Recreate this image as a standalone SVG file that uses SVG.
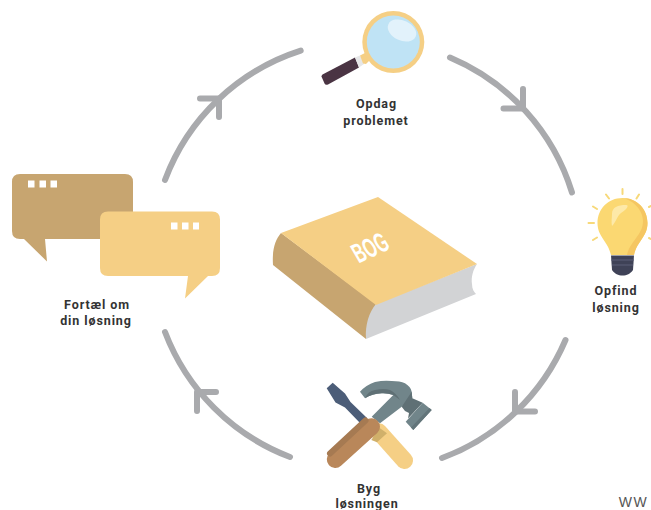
<svg xmlns="http://www.w3.org/2000/svg" width="651" height="510" viewBox="0 0 651 510">
<style>
.lbl{font-family:"Roboto","Liberation Sans",sans-serif;font-size:12.5px;font-weight:700;fill:#333;text-anchor:middle;letter-spacing:.9px}
.arc{fill:none;stroke:#a9aaad;stroke-width:6;stroke-linecap:round;stroke-linejoin:round}
</style>
<rect width="651" height="510" fill="#fff"/>
<g id="connectors" class="arc">
<path d="M450 57.500A215 215 0 0 1 572 192.500"/>
<path d="M503.500 108.500H523V89"/>
<path d="M565.500 340A216 216 0 0 1 442 458"/>
<path d="M515 392V411.500H535"/>
<path d="M290 457A216 216 0 0 1 165 332"/>
<path d="M197 392L216 392M197 392V411"/>
<path d="M165 180A215 215 0 0 1 300.700 50.700"/>
<path d="M200 98.500H219V117"/>
</g>
<g id="node-opdag">
<path d="M321.500 76.500L324.500 83.500Q325.500 85.500 328 84.500L359 67.500L355 57.500L322.500 74.500Q321.500 75.500 321.500 76.500Z" fill="#4a3443"/>
<path d="M355 57.500L359 67.500L364 64L360 55.500Z" fill="#e6e7e8"/>
<path d="M360 55.500L367 52L373 57L366 64L363 63.500Z" fill="#f5cf85"/>
<circle cx="393.300" cy="42" r="31" fill="#f5cf85"/>
<circle cx="393.300" cy="42" r="26.500" fill="#bfe3f5"/>
<ellipse cx="402" cy="30.500" rx="15" ry="10" transform="rotate(25 402 30.500)" fill="#e2f2fb"/>
<text class="lbl" x="376.500" y="108">Opdag</text>
<text class="lbl" x="376" y="125">problemet</text>
</g>
<g id="node-opfind">
<g stroke="#f7d97a" stroke-width="2" stroke-linecap="round" fill="none">
<path d="M622.500 189V194M606 194.500L609 198.500M639 194.500L636.500 198.500M593 206.500L597 209M588.500 223H594M593 240L597 237.500M649 207L651 206M649 238L651 239"/>
</g>
<path d="M622.500 198C608 198 597.500 209 597.500 223C597.500 237 608 241 611 255H634C637 241 647.500 237 647.500 223C647.500 209 637 198 622.500 198Z" fill="#fbd872"/>
<path d="M622.500 198C637 198 647.500 209 647.500 223C647.500 237 637 241 634 255H627C630 241 643 235 643 221C643 210 633 200 622.500 198Z" fill="#f5c661"/>
<path d="M612 214C612 207 618 205 626 205C630 205 626 210 621 213C617 216 616 222 612 226C611 222 612 218 612 214Z" fill="#fde9a8"/>
<path d="M611 255.500H634L633 270C630 274 627 275.500 622.500 275.500C618 275.500 615 274 612 270Z" fill="#3f4257"/>
<path d="M611 260H634M612 265H633" stroke="#5c5f78" stroke-width="1" fill="none"/>
<text class="lbl" x="616" y="295">Opfind</text>
<text class="lbl" x="616" y="312">løsning</text>
</g>
<g id="node-byg">
<path d="M326.700 388.300L332.700 382.700L345 393.500L350.500 402L367 418L361 424L345 407.500L335.500 402.500Z" fill="#4c5d78"/>
<path d="M360 391.700Q366 385 375 382Q384 380 391.700 381Q400 381 405 383.300Q411 387 411.700 391.700L412.300 398.300L401.700 406.700L380 423.300L371.700 416.700L393.300 395Q388 393 381.700 393.300Q372 394 365 398.300Z" fill="#71858a"/>
<path d="M365 398.300Q368 391 375 390Q384 388 390 390Q396 393 400 400L393.300 395Q388 393 381.700 393.300Q372 394 365 398.300Z" fill="#5f7075"/>
<path d="M411.700 391.700L412.300 398.300L422.700 402.700L408 418.500L409 413L405 411L401.700 406.700Z" fill="#5f7075"/>
<path d="M422.700 402.700L431.700 410L413.300 430L405.700 421.700Z" fill="#71858a"/>
<path d="M431.700 410L413.300 430L411 427.500L429.500 408Z" fill="#63757a"/>
<line x1="378.700" y1="431.700" x2="404.500" y2="460.500" stroke="#f5cf85" stroke-width="17" stroke-linecap="round"/>
<path d="M371.300 440L379.300 427.700L387 433.300L377 442.300Z" fill="#d0b06a"/>
<line x1="335.300" y1="459.500" x2="371.500" y2="426.700" stroke="#b9875a" stroke-width="17" stroke-linecap="round"/>
<path d="M330 453.500L365.500 420.500" stroke="#a67a52" stroke-width="6" fill="none" stroke-linecap="round"/>
<text class="lbl" x="369" y="493">Byg</text>
<text class="lbl" x="367" y="507.500">løsningen</text>
</g>
<g id="node-fortael">
<path d="M20 174H125Q133 174 133 182V231Q133 239 125 239H45L47 261.500L24 239H20Q12 239 12 231V182Q12 174 20 174Z" fill="#c7a570"/>
<path d="M28 180.500H34.500V187.500H28ZM39.500 180.500H46V187.500H39.500ZM50.500 180.500H57V187.500H50.500Z" fill="#fff"/>
<path d="M108 211.500H212Q220 211.500 220 219.500V268Q220 276 212 276H208L185 298.500L188 276H108Q100 276 100 268V219.500Q100 211.500 108 211.500Z" fill="#f5cf85"/>
<path d="M171 222.500H177.500V229.500H171ZM182 222.500H188.500V229.500H182ZM193 222.500H199V229.500H193Z" fill="#fff"/>
<text class="lbl" x="97" y="309">Fortæl om</text>
<text class="lbl" x="96" y="325">din løsning</text>
</g>
<g id="node-bog">
<path d="M281 233C275 240 272 250 273 265L366 339C366 330 371 318 376 304Z" fill="#c7a570"/>
<path d="M376 304L477 264C473 270 471 277 472 284C472 289 474 292 476 294L366 339C365 325 369 312 376 304Z" fill="#d2d3d5"/>
<path d="M281 233L378 197L477 264L376 305Z" fill="#f5cf85"/>
<text transform="matrix(.62 -.29 .62 1.06 375 256)" font-family="Liberation Sans,sans-serif" font-size="23" fill="#fff" font-weight="700" text-anchor="middle">BOG</text>
</g>
<text x="633.500" y="506.500" font-family="Liberation Sans,sans-serif" font-size="14" letter-spacing="1.500" fill="#555" text-anchor="middle">WW</text>
</svg>
